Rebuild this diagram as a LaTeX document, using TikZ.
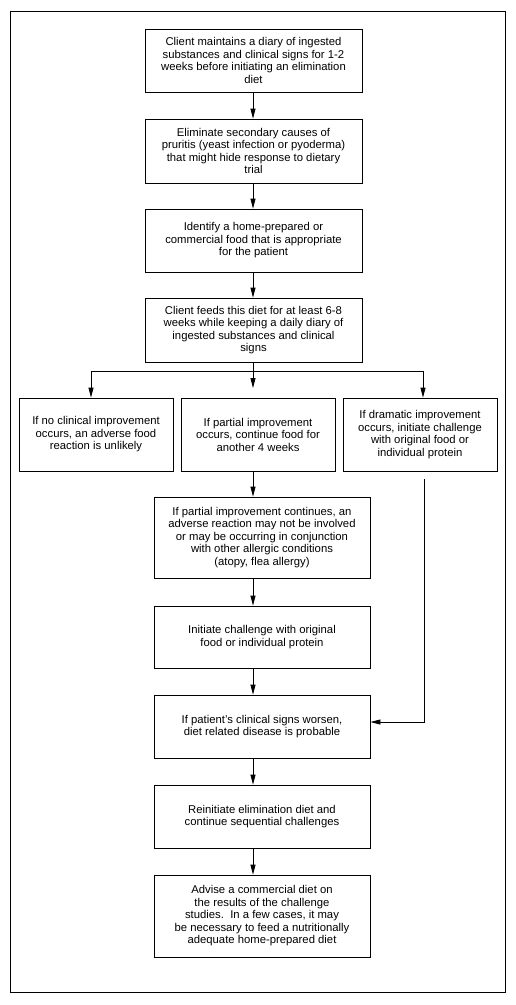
\documentclass[tikz,border=0pt]{standalone}
\usepackage{fontspec}
\setmainfont{Liberation Sans}
\usetikzlibrary{arrows.meta}
\begin{document}
\begin{tikzpicture}[x=1pt,y=-1pt,
  box/.style={draw,line width=0.8pt,align=center,inner sep=0pt,
    font=\fontsize{11.3}{12.5}\selectfont},
  arr/.style={line width=0.8pt,-{Triangle[length=10pt,width=5pt]}},
  ln/.style={line width=0.8pt}]
\useasboundingbox (0,0) rectangle (515,1005);
\draw[line width=0.8pt] (10,11) rectangle (505,992);
\node[box,minimum width=217pt,minimum height=63pt] (b1) at (253.5,60.5)
  {Client maintains a diary of ingested\\substances and clinical signs for 1-2\\weeks before initiating an elimination\\diet};
\node[box,minimum width=217pt,minimum height=64pt] (b2) at (253.5,151)
  {Eliminate secondary causes of\\pruritis (yeast infection or pyoderma)\\that might hide response to dietary\\trial};
\node[box,minimum width=217pt,minimum height=63pt] (b3) at (253.5,240.5)
  {Identify a home-prepared or\\commercial food that is appropriate\\for the patient};
\node[box,minimum width=217pt,minimum height=64pt] (b4) at (253.5,330)
  {Client feeds this diet for at least 6-8\\weeks while keeping a daily diary of\\ingested substances and clinical\\signs};
\node[box,minimum width=154pt,minimum height=73pt] (l) at (96,434.5)
  {If no clinical improvement\\occurs, an adverse food\\reaction is unlikely};
\node[box,minimum width=154pt,minimum height=73pt] (m) at (258,434.5)
  {If partial improvement\\occurs, continue food for\\another 4 weeks};
\node[box,minimum width=154pt,minimum height=73pt] (r) at (420,434.5)
  {If dramatic improvement\\occurs, initiate challenge\\with original food or\\individual protein};
\node[box,minimum width=216pt,minimum height=81pt] (b5) at (262,537.5)
  {If partial improvement continues, an\\adverse reaction may not be involved\\or may be occurring in conjunction\\with other allergic conditions\\(atopy, flea allergy)};
\node[box,minimum width=216pt,minimum height=62pt] (b6) at (262,637)
  {Initiate challenge with original\\food or individual protein};
\node[box,minimum width=216pt,minimum height=63pt] (b7) at (262,726.5)
  {If patient's clinical signs worsen,\\diet related disease is probable};
\node[box,minimum width=216pt,minimum height=63pt] (b8) at (262,816.5)
  {Reinitiate elimination diet and\\continue sequential challenges};
\node[box,minimum width=216pt,minimum height=82pt] (b9) at (262,916)
  {Advise a commercial diet on\\the results of the challenge\\studies.\ \ In a few cases, it may\\be necessary to feed a nutritionally\\adequate home-prepared diet};
\coordinate (ax) at (253,0);
\draw[arr] (b1.south -| ax) -- (b2.north -| ax);
\draw[arr] (b2.south -| ax) -- (b3.north -| ax);
\draw[arr] (b3.south -| ax) -- (b4.north -| ax);
\coordinate (jl) at (91,371);
\coordinate (jr) at (423,371);
\draw[ln] (jl) -- (jr);
\draw[arr] (b4.south -| ax) -- (253,388);
\draw[arr] (jl) -- (jl |- l.north);
\draw[arr] (jr) -- (jr |- r.north);
\draw[arr] (m.south -| ax) -- (b5.north -| ax);
\draw[arr] (b5.south -| ax) -- (b6.north -| ax);
\draw[arr] (b6.south -| ax) -- (b7.north -| ax);
\draw[arr] (b7.south -| ax) -- (b8.north -| ax);
\draw[arr] (b8.south -| ax) -- (b9.north -| ax);
\coordinate (rs) at (424,479);
\coordinate (rc) at (424,722);
\draw[arr] (rs) -- (rc) -- (rc -| b7.east);
\end{tikzpicture}
\end{document}
